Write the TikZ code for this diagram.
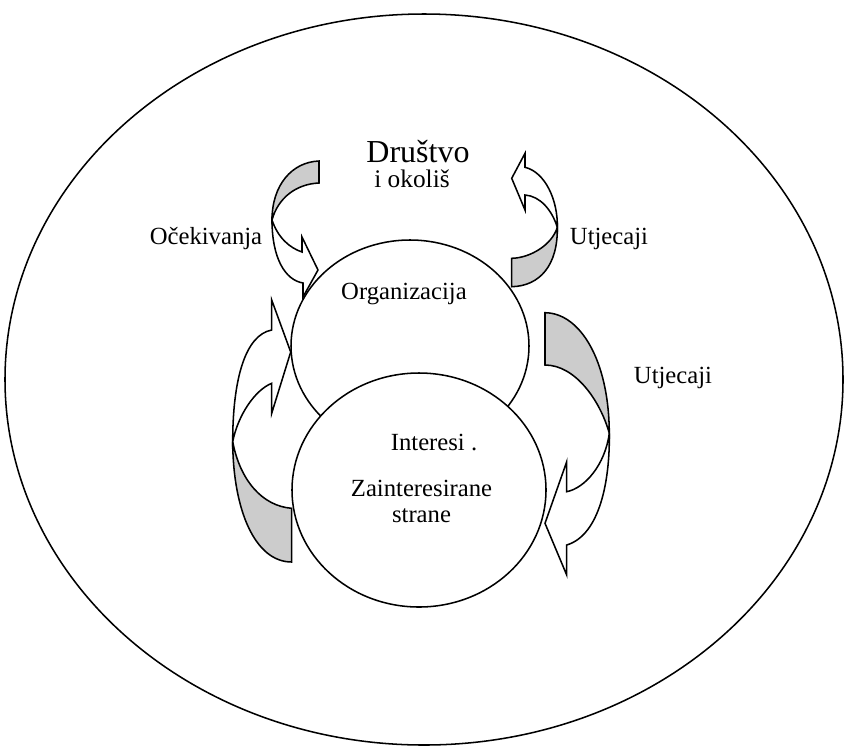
\documentclass[tikz,border=0pt]{standalone}
\usepackage{fontspec}
\setmainfont{Liberation Serif}

\tikzset{every picture/.style={line width=1.15pt}}
\tikzset{
  backpart/.style={draw, fill=black!20},
  frontpart/.style={draw, fill=white},
  lbl/.style={inner sep=0.75pt, font=\fontsize{18.5}{19.5}\selectfont}
}

\begin{document}
\begin{tikzpicture}[x=0.75pt,y=0.75pt,yscale=-1,xscale=1]
\useasboundingbox (0,0) rectangle (845,747);

%Shape: Ellipse (outer)
\draw   (424,379.5) ellipse [x radius=419, y radius=365.5] ;

%Curved Arrow (top left)
\draw [backpart]  (319,161) -- (319,183) .. controls (296,184) and (278,198) .. (272,220) .. controls (272,185) and (292,162) .. (319,161) -- cycle ;
\draw [frontpart]  (272,220) .. controls (278,238) and (290,248) .. (302,252) -- (302,237) -- (318,270) -- (303,297) -- (303,283) .. controls (285,280) and (272,258) .. (272,220) -- cycle ;
%Curved Arrow (top right)
\draw [backpart]  (511.7,258.3) -- (511.7,286.7) .. controls (540,286) and (558,265) .. (557.3,227.3) .. controls (552,245) and (530,258) .. (511.7,258.3) -- cycle ;
\draw [frontpart]  (557.3,227.3) .. controls (558,200) and (545,172) .. (525,167.3) -- (525,153.3) -- (511.7,178.3) -- (525,210) -- (525,195) .. controls (540,196) and (552,210) .. (557.3,227.3) -- cycle ;
%Curved Arrow (left)
\draw [backpart]  (291.7,508.3) -- (291.7,562) .. controls (255,562) and (233,510) .. (232.7,441.7) .. controls (240,480) and (262,506) .. (291.7,508.3) -- cycle ;
\draw [frontpart]  (232.7,441.7) .. controls (232.7,380) and (245,335) .. (271.7,330) -- (271.7,300) -- (290.7,352) -- (271.7,413.3) -- (271.7,383.3) .. controls (255,390) and (238,415) .. (232.7,441.7) -- cycle ;
%Curved Arrow (right)
\draw [backpart]  (545,312.7) -- (545,365) .. controls (575,365) and (600,400) .. (609.3,433.3) .. controls (609,360) and (580,313) .. (545,312.7) -- cycle ;
\draw [frontpart]  (609.3,433.3) .. controls (610,480) and (600,535) .. (566.7,545) -- (566.7,575) -- (545,523.3) -- (566.7,461.7) -- (566.7,491.7) .. controls (585,488) and (605,465) .. (609.3,433.3) -- cycle ;

%Shape: Ellipse (organizacija)
\draw [fill=white]  (410,346) ellipse [x radius=119, y radius=106] ;
%Shape: Ellipse (interesi)
\draw [fill=white]  (419,490) ellipse [x radius=127, y radius=117] ;

% Text Node
\draw (418,152) node (drustvo) [lbl, font=\fontsize{24}{26}\selectfont] {Društvo};
% Text Node
\draw (412,179) node (okolis) [lbl, font=\fontsize{19}{21}\selectfont] {i okoliš};
% Text Node
\draw (206,239) node (ocekivanja) [lbl] {Očekivanja};
% Text Node
\draw (609,239) node (utjecajiA) [lbl] {Utjecaji};
% Text Node
\draw (673,378) node (utjecajiB) [lbl] {Utjecaji};
% Text Node
\draw (404,294) node (organizacija) [lbl] {Organizacija};
% Text Node
\draw (434,442) node (interesi) [lbl] {Interesi .};
% Text Node
\draw (421.5,501) node (strane) [lbl, align=center] {Zainteresirane\\strane};

\end{tikzpicture}
\end{document}
